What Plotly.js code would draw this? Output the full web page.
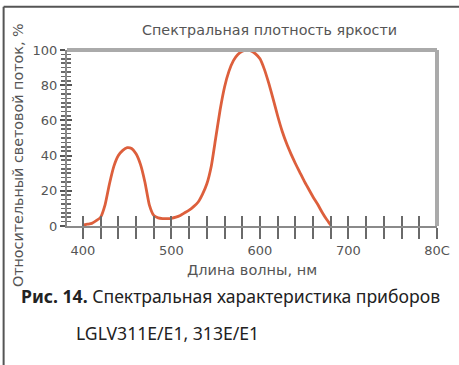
<!DOCTYPE html>
<html>
<head>
<meta charset="utf-8">
<script src="https://cdn.plot.ly/plotly-3.0.1.min.js"></script>
<style>
html,body{margin:0;padding:0;background:#fff;}
#chart{width:459px;height:365px;}
</style>
</head>
<body>
<div id="chart"></div>
<script>
// Wavelength, nm
var wavelength = [400,405,410,415,420,425,430,435,440,445,450,455,460,465,470,475,480,485,490,495,500,505,510,515,520,525,530,535,540,545,550,555,560,565,570,575,580,585,590,595,600,605,610,615,620,625,630,635,640,645,650,655,660,665,670,675,680];
// Relative luminous flux, %
var flux = [0.5,1,1.5,3,5,12,24,34,40,43,44.5,44,41,35,25,12,6,4.6,4.2,4.2,4.4,5,6,7.5,9,11,13.5,18,24,34,50,66,79,88,94,97.5,99.3,100,99.5,97.8,95,89,81,72,62.5,54,47,41,35.5,30.5,25.5,21,16.5,12.5,8,4,0.5];
var xTickVals = [400,500,600,700,800];
var xTickText = ['400','500','600','700','80C'];
var yTickVals = [0,20,40,60,80,100];

var chartTitle = 'Спектральная плотность яркости';
var xTitle = 'Длина волны, нм';
var yTitle = 'Относительный световой поток, %';
var captionBold = 'Рис. 14.';
var captionLine1 = ' Спектральная характеристика приборов';
var captionLine2 = 'LGLV311E/E1, 313E/E1';

var axisFont = {family: 'DejaVu Sans', size: 13, color: '#555'};
var tickColor = '#6a6a6a';

var traces = [
  {x: wavelength, y: flux, type: 'scatter', mode: 'lines',
   line: {color: '#dd5f3c', width: 2.8, shape: 'spline', smoothing: 0.5},
   hoverinfo: 'skip', showlegend: false},
  {x: [], y: [], xaxis: 'x2', yaxis: 'y2', type: 'scatter', showlegend: false}
];

var layout = {
  width: 459, height: 365,
  margin: {l: 67, r: 22, t: 50, b: 139, pad: 0},
  paper_bgcolor: '#fff', plot_bgcolor: '#fff',
  showlegend: false,
  xaxis: {
    range: [382, 800], showgrid: false, zeroline: false,
    showline: true, linecolor: '#8a8a8a', linewidth: 2,
    tickmode: 'array', tickvals: xTickVals, ticktext: xTickText,
    ticks: 'outside', ticklen: 11, tickwidth: 2, tickcolor: tickColor,
    minor: {dtick: 20, tick0: 400, ticks: 'outside', ticklen: 11, tickwidth: 2, tickcolor: tickColor, showgrid: false},
    tickfont: axisFont,
    title: {text: xTitle, font: {family: 'DejaVu Sans', size: 14.5, color: '#555'}, standoff: 8}
  },
  xaxis2: {
    overlaying: 'x', matches: 'x', anchor: 'y', side: 'bottom',
    range: [382, 800], showgrid: false, zeroline: false, showline: false,
    showticklabels: false,
    tickmode: 'array', tickvals: xTickVals,
    ticks: 'inside', ticklen: 10, tickwidth: 2, tickcolor: tickColor,
    minor: {dtick: 20, tick0: 400, ticks: 'inside', ticklen: 10, tickwidth: 2, tickcolor: tickColor, showgrid: false}
  },
  yaxis: {
    range: [0, 100], showgrid: false, zeroline: false,
    showline: true, linecolor: '#8a8a8a', linewidth: 2,
    tickmode: 'array', tickvals: yTickVals,
    ticks: 'outside', ticklen: 5, tickwidth: 2, tickcolor: '#555',
    minor: {dtick: 2.5, tick0: 0, ticks: 'outside', ticklen: 4, tickwidth: 1.5, tickcolor: tickColor, showgrid: false},
    tickfont: axisFont
  },
  yaxis2: {
    overlaying: 'y', matches: 'y', anchor: 'x', side: 'left',
    range: [0, 100], showgrid: false, zeroline: false, showline: false,
    showticklabels: false,
    tickmode: 'array', tickvals: yTickVals,
    ticks: 'inside', ticklen: 5, tickwidth: 2, tickcolor: '#555',
    minor: {dtick: 2.5, tick0: 0, ticks: 'inside', ticklen: 4, tickwidth: 1.5, tickcolor: tickColor, showgrid: false}
  },
  shapes: [
    // outer figure frame (top and left)
    {type: 'line', xref: 'paper', yref: 'paper', x0: -0.1713, x1: 1.1, y0: 1.2462, y1: 1.2462, line: {color: '#555', width: 2}},
    {type: 'line', xref: 'paper', yref: 'paper', x0: -0.1713, x1: -0.1713, y0: 1.2462, y1: -1, line: {color: '#555', width: 2}},
    // plot frame top and right
    {type: 'line', xref: 'paper', yref: 'paper', x0: 0, x1: 1, y0: 1, y1: 1, line: {color: '#aaa', width: 4}},
    {type: 'line', xref: 'paper', yref: 'paper', x0: 1, x1: 1, y0: 1, y1: 0, line: {color: '#aaa', width: 4}}
  ],
  annotations: [
    {text: chartTitle, xref: 'paper', yref: 'paper', x: 0.546, y: 1.114, xanchor: 'center', yanchor: 'middle', showarrow: false,
     font: {family: 'DejaVu Sans', size: 14.3, color: '#555'}},
    {text: yTitle, xref: 'paper', yref: 'paper', x: -0.132, y: 0.404, xanchor: 'center', yanchor: 'middle', textangle: -90, showarrow: false,
     font: {family: 'DejaVu Sans', size: 14.3, color: '#555'}},
    {text: '<b>' + captionBold + '</b>' + captionLine1, xref: 'paper', yref: 'paper', x: -0.13, y: -0.40, xanchor: 'left', yanchor: 'middle', showarrow: false,
     font: {family: 'Noto Sans', size: 17.6, color: '#222'}},
    {text: captionLine2, xref: 'paper', yref: 'paper', x: 0.02, y: -0.61, xanchor: 'left', yanchor: 'middle', showarrow: false,
     font: {family: 'Noto Sans', size: 17.6, color: '#222'}}
  ]
};

Plotly.newPlot('chart', traces, layout, {displayModeBar: false, staticPlot: true});
</script>
</body>
</html>
